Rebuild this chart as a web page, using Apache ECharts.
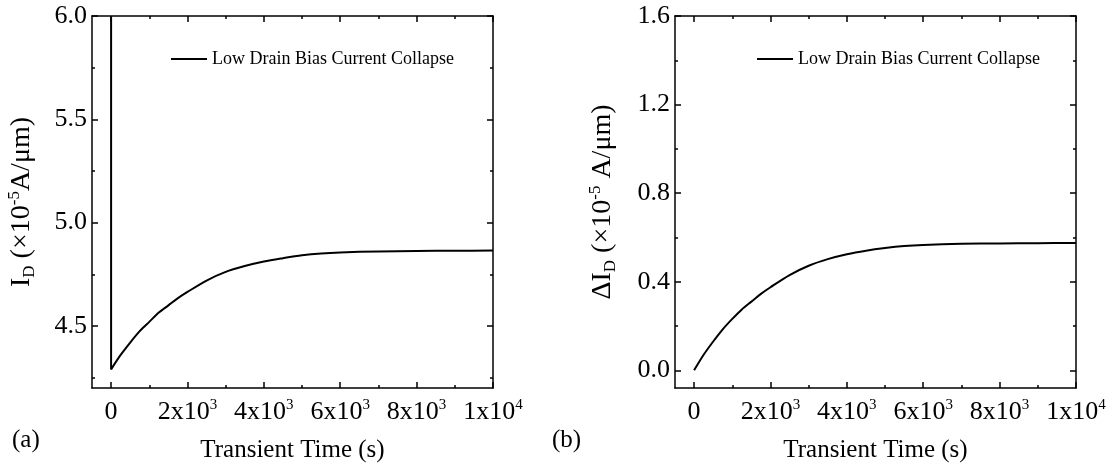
<!DOCTYPE html>
<html>
<head>
<meta charset="utf-8">
<title>Transient drain current</title>
<script src="https://cdn.jsdelivr.net/npm/echarts@6/dist/echarts.min.js"></script>
<style>
  html, body { margin: 0; padding: 0; background: #fff; }
  #chart { width: 1109px; height: 472px; }
</style>
</head>
<body>
<div id="chart"></div>
<script>
// transient time (s)
const times = [0, 250, 500, 750, 1000, 1250, 1500, 1750, 2000, 2500, 3000, 3500, 4000, 4500, 5000, 5500, 6000, 7000, 8000, 9000, 10000]
// (a) I_D, x1e-5 A/um ; idStart is the value just before the jump at t = 0
const idStart = 6.0
const idValues = [4.29, 4.36, 4.42, 4.475, 4.52, 4.565, 4.60, 4.635, 4.665, 4.72, 4.762, 4.79, 4.812, 4.828, 4.842, 4.851, 4.856, 4.861, 4.863, 4.864, 4.865]
// (b) delta I_D, x1e-5 A/um
const dIdValues = [0, 0.07, 0.13, 0.185, 0.232, 0.275, 0.31, 0.345, 0.375, 0.43, 0.472, 0.502, 0.524, 0.54, 0.552, 0.561, 0.566, 0.571, 0.573, 0.574, 0.575]

const xMajor = [0, 2000, 4000, 6000, 8000, 10000]
const xMinor = [1000, 3000, 5000, 7000, 9000]
const xTickText = { 0: '{n|0}', 2000: '{n|2x10}{s|3}', 4000: '{n|4x10}{s|3}', 6000: '{n|6x10}{s|3}', 8000: '{n|8x10}{s|3}', 10000: '{n|1x10}{s|4}' }
const yMajorA = [4.5, 5.0, 5.5, 6.0]
const yMinorA = [4.25, 4.75, 5.25, 5.75]
const yMajorB = [0, 0.4, 0.8, 1.2, 1.6]
const yMinorB = [0.2, 0.6, 1.0, 1.4]
const seriesName = 'Low Drain Bias Current Collapse'

const serif = 'Liberation Serif'
const chart = echarts.init(document.getElementById('chart'))

const richTick = {
  n: { fontFamily: serif, fontSize: 26, color: '#000', lineHeight: 28 },
  s: { fontFamily: serif, fontSize: 15, color: '#000', verticalAlign: 'top', lineHeight: 15 }
}
const richName = {
  n: { fontFamily: serif, fontSize: 28, color: '#000', lineHeight: 32 },
  sub: { fontFamily: serif, fontSize: 17, color: '#000', verticalAlign: 'bottom', lineHeight: 17 },
  sup: { fontFamily: serif, fontSize: 17, color: '#000', verticalAlign: 'top', lineHeight: 17 }
}
const frame = { show: true, onZero: false, lineStyle: { color: '#000', width: 1.5 } }
const noLine = { show: false, onZero: false }
const tickStyle = { color: '#000', width: 1.5 }

// four x axes per grid: bottom labels/major, bottom minor, top major, top minor
function xAxes(grid) {
  const base = { type: 'value', gridIndex: grid, min: -500, max: 10000, splitLine: { show: false } }
  return [
    Object.assign({}, base, {
      position: 'bottom',
      axisLine: frame,
      axisTick: { inside: true, length: 6, customValues: xMajor, lineStyle: tickStyle },
      axisLabel: { customValues: xMajor, margin: 10, formatter: v => xTickText[v], rich: richTick },
      name: 'Transient Time (s)',
      nameLocation: 'middle',
      nameGap: 50,
      nameTextStyle: { fontFamily: serif, fontSize: 25, color: '#000' }
    }),
    Object.assign({}, base, {
      position: 'bottom',
      axisLine: noLine,
      axisTick: { inside: true, length: 3, customValues: xMinor, lineStyle: tickStyle },
      axisLabel: { show: false }
    }),
    Object.assign({}, base, {
      position: 'top',
      axisLine: frame,
      axisTick: { inside: true, length: 6, customValues: xMajor, lineStyle: tickStyle },
      axisLabel: { show: false }
    }),
    Object.assign({}, base, {
      position: 'top',
      axisLine: noLine,
      axisTick: { inside: true, length: 3, customValues: xMinor, lineStyle: tickStyle },
      axisLabel: { show: false }
    })
  ]
}

function yAxes(grid, min, max, major, minor, name, gap) {
  const base = { type: 'value', gridIndex: grid, min: min, max: max, splitLine: { show: false } }
  return [
    Object.assign({}, base, {
      position: 'left',
      axisLine: frame,
      axisTick: { inside: true, length: 6, customValues: major, lineStyle: tickStyle },
      axisLabel: { customValues: major, margin: 5, formatter: v => v.toFixed(1), fontFamily: serif, fontSize: 26, color: '#000' },
      name: name,
      nameLocation: 'middle',
      nameRotate: 90,
      nameGap: gap,
      nameTextStyle: { rich: richName }
    }),
    Object.assign({}, base, {
      position: 'left',
      axisLine: noLine,
      axisTick: { inside: true, length: 3, customValues: minor, lineStyle: tickStyle },
      axisLabel: { show: false }
    }),
    Object.assign({}, base, {
      position: 'right',
      axisLine: frame,
      axisTick: { inside: true, length: 6, customValues: major, lineStyle: tickStyle },
      axisLabel: { show: false }
    }),
    Object.assign({}, base, {
      position: 'right',
      axisLine: noLine,
      axisTick: { inside: true, length: 3, customValues: minor, lineStyle: tickStyle },
      axisLabel: { show: false }
    })
  ]
}

const jumpA = [[times[0], idStart], [times[0], idValues[0]]]
const dataA = times.map((t, i) => [t, idValues[i]])
const dataB = times.map((t, i) => [t, dIdValues[i]])

const legendBase = {
  data: [seriesName],
  icon: 'rect',
  itemWidth: 36,
  itemHeight: 2,
  itemGap: 6,
  orient: 'horizontal',
  textStyle: { fontFamily: serif, fontSize: 18, color: '#000' },
  selectedMode: false
}

const lineBase = {
  name: seriesName,
  type: 'line',
  showSymbol: false,
  clip: true,
  lineStyle: { color: '#000', width: 2 },
  itemStyle: { color: '#000' }
}

const option = {
  animation: false,
  backgroundColor: '#fff',
  grid: [
    { left: 92, top: 16, width: 401, height: 372, outerBoundsMode: 'none' },
    { left: 675, top: 16, width: 401, height: 372, outerBoundsMode: 'none' }
  ],
  xAxis: xAxes(0).concat(xAxes(1)),
  yAxis: yAxes(0, 4.2, 6.0, yMajorA, yMinorA, '{n|I}{sub|D}{n| (×10}{sup|-5}{n|A/μm)}', 54)
    .concat(yAxes(1, -0.08, 1.6, yMajorB, yMinorB, '{n|ΔI}{sub|D}{n| (×10}{sup|-5}{n| A/μm)}', 56)),
  legend: [
    Object.assign({}, legendBase, { left: 166, top: 45 }),
    Object.assign({}, legendBase, { left: 752, top: 45 })
  ],
  graphic: [
    { type: 'text', left: 12, top: 428, style: { text: '(a)', font: '25px "Liberation Serif"', fill: '#000' } },
    { type: 'text', left: 552, top: 428, style: { text: '(b)', font: '25px "Liberation Serif"', fill: '#000' } }
  ],
  series: [
    Object.assign({}, lineBase, { xAxisIndex: 0, yAxisIndex: 0, data: jumpA }),
    Object.assign({}, lineBase, { xAxisIndex: 0, yAxisIndex: 0, data: dataA, smooth: 0.3 }),
    Object.assign({}, lineBase, { xAxisIndex: 4, yAxisIndex: 4, data: dataB, smooth: 0.3 })
  ]
}

chart.setOption(option)
window.addEventListener('resize', () => chart.resize())
</script>
</body>
</html>
